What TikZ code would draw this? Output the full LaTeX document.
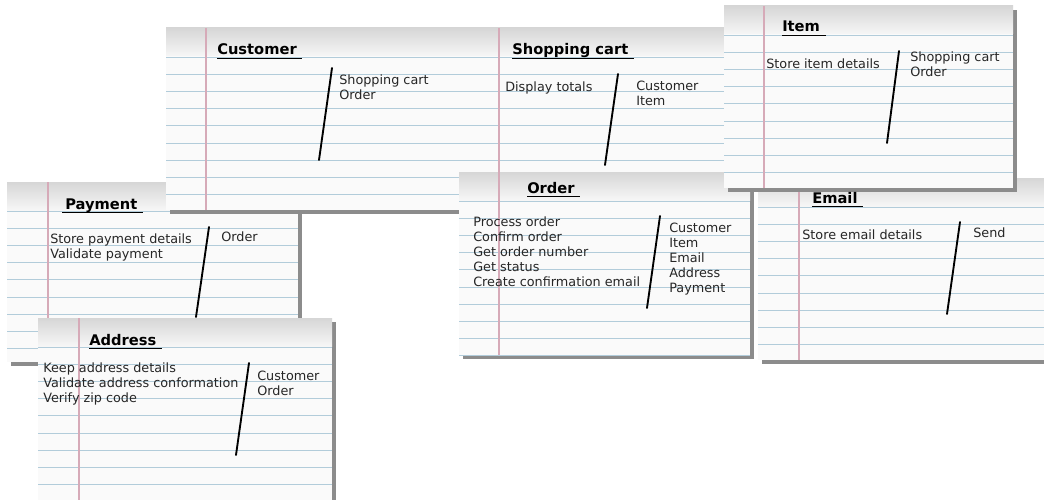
\documentclass[tikz,border=0pt]{standalone}
\usepackage{fontspec}
\setmainfont{DejaVu Sans}
\usepackage{tikz}

\definecolor{ruleblue}{RGB}{178,204,218}
\definecolor{marginpink}{RGB}{214,170,184}

\begin{document}
\begin{tikzpicture}[x=0.75pt,y=-0.75pt,
    cardtitle/.style={anchor=base west,inner sep=0pt,font=\fontsize{11}{13}\selectfont\bfseries},
    cardtext/.style={anchor=north west,inner sep=0pt,align=left,text=black!85,font=\fontsize{9.6}{11.2}\selectfont},
    divider/.style={line width=1.4pt,line cap=round}]
        \clip (0,0) rectangle (1044,499);  % picture frame
        \fill[white] (0,0) rectangle (1044,499);

        % index cards, from back to front
        \foreach \lx/\ty/\rx/\by/\mx in {7/182/298/362/48, 166/28/457/210/206, 38/318/332/505/79,
                457/28/748/210/499, 459/172/750/355/499, 758/178/1050/360/799, 724/6/1013/188/764}{
            \fill[black!45] (\lx+4,\ty+4) rectangle (\rx+4,\by+4);  % shadow
            \begin{scope}
                \clip (\lx,\ty) rectangle (\rx,\by);
                \fill[gray!4] (\lx,\ty) rectangle (\rx,\by);
                \shade[top color=gray!32,bottom color=gray!7] (\lx,\ty) rectangle (\rx,\ty+28);  % top strip
                \foreach \k in {0,...,10}
                    \draw[ruleblue,line width=0.6pt] (\lx,\ty+29+17.2*\k) -- (\rx,\ty+29+17.2*\k);
                \draw[marginpink,line width=0.8pt] (\mx,\ty) -- (\mx,\by);  % margin
            \end{scope}
        }

        % Payment
        \node[cardtitle] (pay-title) at (65,209) {Payment};
        \draw ([xshift=-2pt,yshift=-2.2pt]pay-title.base west) -- ([xshift=4pt,yshift=-2.2pt]pay-title.base east);
        \node[cardtext] (pay-does) at (50,234) {Store payment details\\Validate payment};
        \node[cardtext] (pay-knows) at (221,232) {Order};
        \draw[divider] (209,227) -- (196,317);

        % Customer
        \node[cardtitle] (cust-title) at (217,55) {Customer};
        \draw ([yshift=-2.2pt]cust-title.base west) -- ([xshift=4pt,yshift=-2.2pt]cust-title.base east);
        \node[cardtext] (cust-knows) at (339,75) {Shopping cart\\Order};
        \draw[divider] (332,68) -- (319,160);

        % Address
        \node[cardtitle] (addr-title) at (89,345) {Address};
        \draw ([yshift=-2.2pt]addr-title.base west) -- ([xshift=4pt,yshift=-2.2pt]addr-title.base east);
        \node[cardtext] (addr-does) at (43,363) {Keep address details\\Validate address conformation\\Verify zip code};
        \node[cardtext] (addr-knows) at (257,371) {Customer\\Order};
        \draw[divider] (249,363) -- (236,455);

        % Shopping cart
        \node[cardtitle] (cart-title) at (512,55) {Shopping cart};
        \draw ([yshift=-2.2pt]cart-title.base west) -- ([xshift=4pt,yshift=-2.2pt]cart-title.base east);
        \node[cardtext] (cart-does) at (505,82) {Display totals};
        \node[cardtext] (cart-knows) at (636,81) {Customer\\Item};
        \draw[divider] (618,74) -- (605,165);

        % Order
        \node[cardtitle] (ord-title) at (527,193) {Order};
        \draw ([yshift=-2.2pt]ord-title.base west) -- ([xshift=4pt,yshift=-2.2pt]ord-title.base east);
        \node[cardtext] (ord-does) at (473,217) {Process order\\Confirm order\\Get order number\\Get status\\Create confirmation email};
        \node[cardtext] (ord-knows) at (669,223) {Customer\\Item\\Email\\Address\\Payment};
        \draw[divider] (660,216) -- (647,308);

        % Email
        \node[cardtitle] (mail-title) at (812,203) {Email};
        \draw ([yshift=-2.2pt]mail-title.base west) -- ([xshift=4pt,yshift=-2.2pt]mail-title.base east);
        \node[cardtext] (mail-does) at (802,230) {Store email details};
        \node[cardtext] (mail-knows) at (973,228) {Send};
        \draw[divider] (960,222) -- (947,314);

        % Item
        \node[cardtitle] (item-title) at (782,32) {Item};
        \draw ([yshift=-2.2pt]item-title.base west) -- ([xshift=4pt,yshift=-2.2pt]item-title.base east);
        \node[cardtext] (item-does) at (766,59) {Store item details};
        \node[cardtext] (item-knows) at (910,52) {Shopping cart\\Order};
        \draw[divider] (899,51) -- (887,143);
    \end{tikzpicture}
\end{document}
